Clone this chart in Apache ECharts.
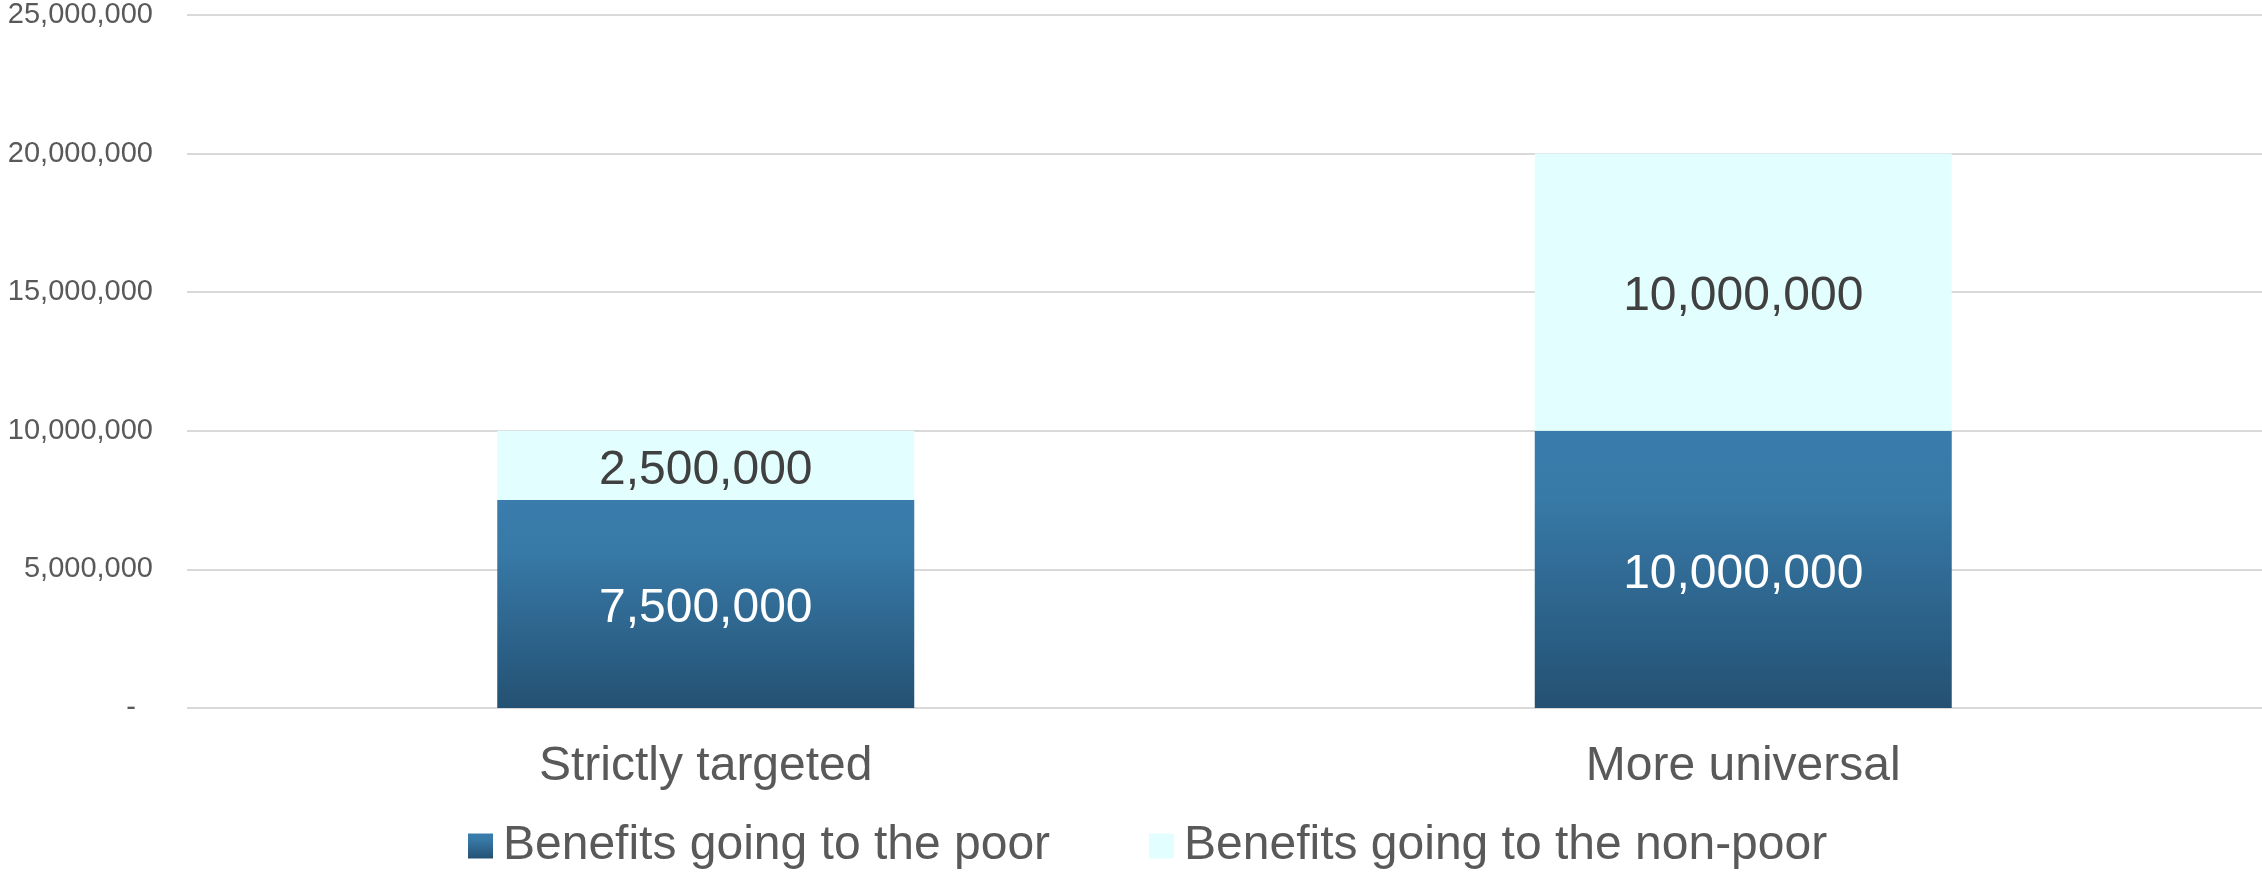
<!DOCTYPE html>
<html>
<head>
<meta charset="utf-8">
<title>Benefits distribution</title>
<script src="https://cdn.jsdelivr.net/npm/echarts@6/dist/echarts.min.js"></script>
<style>
  html, body { margin: 0; padding: 0; background: #ffffff; }
  #chart { width: 2262px; height: 872px; }
</style>
</head>
<body>
<div id="chart"></div>
<script>
// Categories and values
const categories = ['Strictly targeted', 'More universal'];
const poorBenefits = [7500000, 10000000];
const nonPoorBenefits = [2500000, 10000000];
const seriesNames = ['Benefits going to the poor', 'Benefits going to the non-poor'];
const yTicks = [0, 5000000, 10000000, 15000000, 20000000, 25000000];

const FONT = '"Liberation Sans", Arial, sans-serif';
const fmt = v => v.toLocaleString('en-US');

const poorFill = new echarts.graphic.LinearGradient(0, 0, 0, 1, [
  { offset: 0, color: '#3a7cab' },
  { offset: 0.25, color: '#3779a7' },
  { offset: 1, color: '#245173' }
]);

const chart = echarts.init(document.getElementById('chart'), null, { renderer: 'canvas' });

chart.setOption({
  backgroundColor: '#ffffff',
  animation: false,
  textStyle: { fontFamily: FONT },
  grid: { left: 187, right: -4, top: 15, bottom: 164, containLabel: false },
  legend: {
    data: seriesNames,
    left: 463,
    top: 817,
    itemWidth: 25,
    itemHeight: 25,
    itemGap: 99,
    icon: 'rect',
    textStyle: { fontFamily: FONT, fontSize: 48, color: '#595959', padding: [0, 0, 0, 5] }
  },
  xAxis: {
    type: 'category',
    data: categories,
    axisLine: { show: false },
    axisTick: { show: false },
    axisLabel: { fontFamily: FONT, fontSize: 48, color: '#595959', margin: 35 }
  },
  yAxis: {
    type: 'value',
    min: yTicks[0],
    max: yTicks[yTicks.length - 1],
    interval: yTicks[1] - yTicks[0],
    axisLine: { show: false },
    axisTick: { show: false },
    splitLine: { lineStyle: { color: '#d9d9d9', width: 2 } },
    axisLabel: {
      fontFamily: FONT,
      fontSize: 29,
      color: '#595959',
      margin: 34,
      formatter: v => (v === 0 ? '{dash|-}' : fmt(v)),
      rich: { dash: { fontFamily: FONT, fontSize: 29, color: '#595959', padding: [0, 17, 0, 0] } }
    }
  },
  series: [
    {
      name: seriesNames[0],
      type: 'bar',
      stack: 'total',
      barWidth: 417,
      data: poorBenefits,
      itemStyle: { color: poorFill },
      label: {
        show: true,
        position: 'inside',
        offset: [0, 5],
        fontFamily: FONT,
        fontSize: 48,
        color: '#ffffff',
        formatter: p => fmt(p.value)
      }
    },
    {
      name: seriesNames[1],
      type: 'bar',
      stack: 'total',
      barWidth: 417,
      data: nonPoorBenefits,
      itemStyle: { color: '#e3feff' },
      label: {
        show: true,
        position: 'inside',
        offset: [0, 5],
        fontFamily: FONT,
        fontSize: 48,
        color: '#404040',
        formatter: p => fmt(p.value)
      }
    }
  ]
});
</script>
</body>
</html>
